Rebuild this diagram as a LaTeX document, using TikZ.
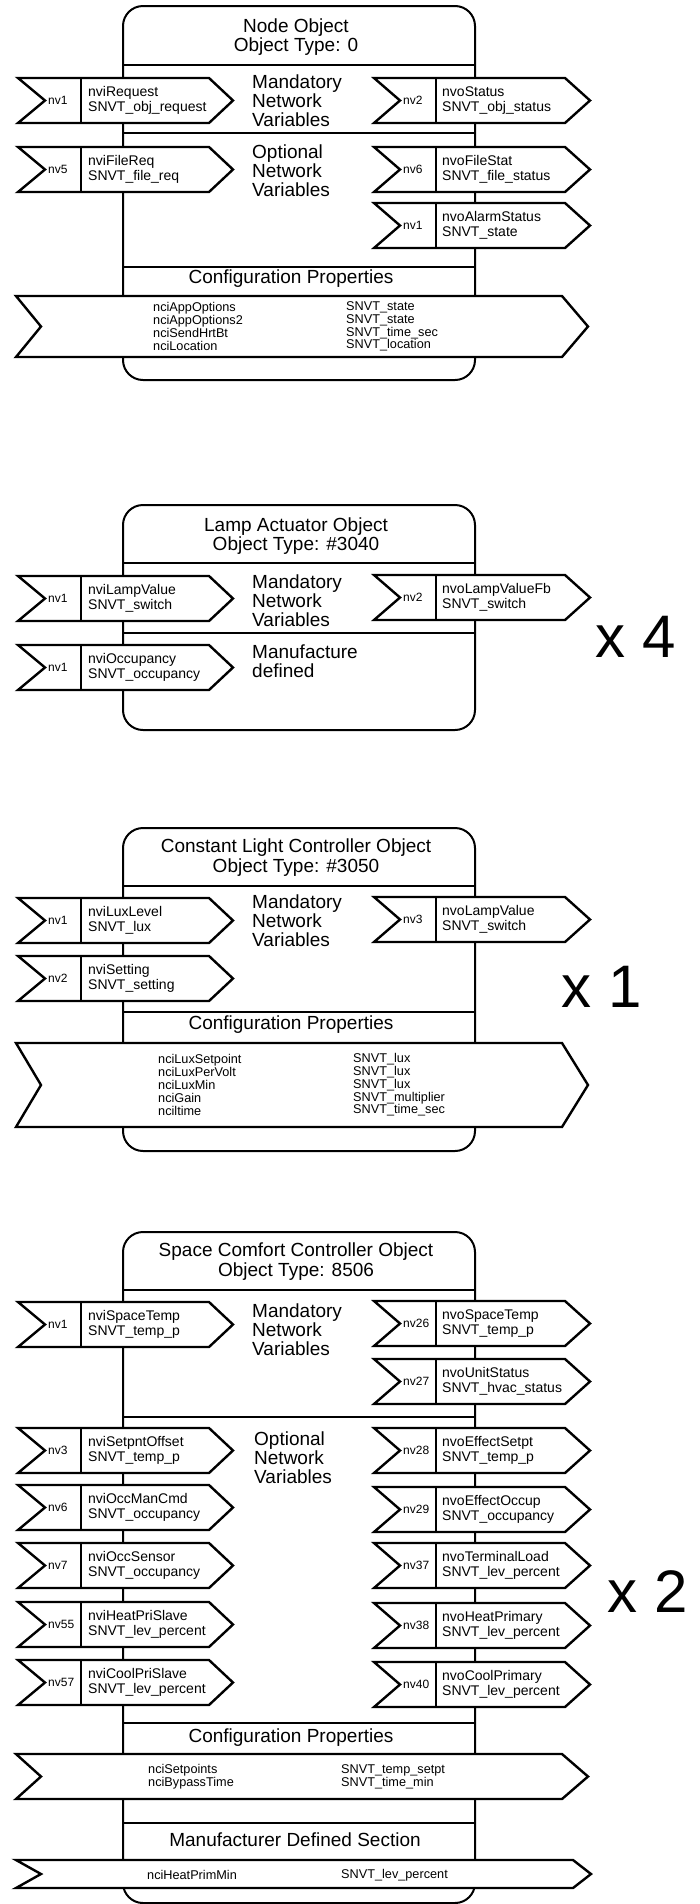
\documentclass[tikz,border=0pt]{standalone}
\usepackage{fontspec}
\setmainfont{Liberation Sans}
\tikzset{
  boxline/.style={line width=2pt, black},
  arr/.style={line width=2.4pt, black, fill=white, line join=miter},
  divline/.style={line width=2.4pt, black},
  nvlab/.style={font=\fontsize{12}{13}\selectfont, inner sep=0pt, anchor=west},
  vartext/.style={font=\fontsize{14}{15}\selectfont, align=left, anchor=west, inner sep=0pt},
  titletext/.style={font=\fontsize{19}{19.5}\selectfont, align=center, inner sep=0pt},
  headtext/.style={font=\fontsize{19}{19}\selectfont, align=left, anchor=west, inner sep=0pt},
  cfgtext/.style={font=\fontsize{12.7}{12.8}\selectfont, align=left, anchor=west, inner sep=0pt},
  multtext/.style={font=\fontsize{60}{60}\selectfont, inner sep=0pt},
}
\newcommand{\inarrow}[5]{%
  \draw[arr] (18,#2) -- (209,#2) -- (233,#2+22.5) -- (209,#2+45) -- (18,#2+45) -- (45,#2+22.5) -- cycle;
  \draw[divline] (81,#2) -- (81,#2+45);
  \node[nvlab] (#1nv) at (48,#2+22.5) {#3};
  \node[vartext] (#1txt) at (88,#2+22.5) {#4\\#5};
}
\newcommand{\outarrow}[5]{%
  \draw[arr] (374,#2) -- (565,#2) -- (590,#2+22.5) -- (565,#2+45) -- (374,#2+45) -- (400,#2+22.5) -- cycle;
  \draw[divline] (436,#2) -- (436,#2+45);
  \node[nvlab] (#1nv) at (403,#2+22.5) {#3};
  \node[vartext] (#1txt) at (442,#2+22.5) {#4\\#5};
}
\newcommand{\cfgarrow}[7]{%
  \draw[arr] (16,#2) -- (562,#2) -- (588,{(#2+#3)/2}) -- (562,#3) -- (16,#3) -- (41,{(#2+#3)/2}) -- cycle;
  \node[cfgtext] (#1l) at (#4,{(#2+#3)/2}) {#6};
  \node[cfgtext] (#1r) at (#5,{(#2+#3)/2}) {#7};
}
\begin{document}
\begin{tikzpicture}[x=1pt,y=-1pt]
\fill[white] (0,0) rectangle (699,1904);
\useasboundingbox (0,0) rectangle (699,1904);
% ---------- Section 1: Node Object ----------
\draw[boxline, rounded corners=20] (123,6) rectangle (475,380);
\node[titletext] (t1) at (296,37) {Node Object\\Object Type: 0};
\draw[boxline] (123,65) -- (475,65);
\node[headtext] (h1a) at (252,101) {Mandatory\\Network\\Variables};
\draw[boxline] (123,133) -- (475,133);
\node[headtext] (h1b) at (252,171) {Optional\\Network\\Variables};
\draw[boxline] (123,267) -- (475,267);
\node[titletext] (c1) at (291,279) {Configuration Properties};
\inarrow{a1}{78}{nv1}{nviRequest}{SNVT\_obj\_request}
\outarrow{b1}{78}{nv2}{nvoStatus}{SNVT\_obj\_status}
\inarrow{a2}{147}{nv5}{nviFileReq}{SNVT\_file\_req}
\outarrow{b2}{147}{nv6}{nvoFileStat}{SNVT\_file\_status}
\outarrow{b3}{203}{nv1}{nvoAlarmStatus}{SNVT\_state}
\cfgarrow{k1}{296}{357}{153}{346}{nciAppOptions\\nciAppOptions2\\nciSendHrtBt\\nciLocation}{SNVT\_state\\SNVT\_state\\SNVT\_time\_sec\\SNVT\_location}
% ---------- Section 2: Lamp Actuator ----------
\draw[boxline, rounded corners=20] (123,505) rectangle (475,730);
\node[titletext] (t2) at (296,536) {Lamp Actuator Object\\Object Type: \#3040};
\draw[boxline] (123,563) -- (475,563);
\node[headtext] (h2a) at (252,601) {Mandatory\\Network\\Variables};
\draw[boxline] (123,633) -- (475,633);
\node[headtext] (h2b) at (252,661.5) {Manufacture\\defined};
\inarrow{a3}{576}{nv1}{nviLampValue}{SNVT\_switch}
\outarrow{b4}{575}{nv2}{nvoLampValueFb}{SNVT\_switch}
\inarrow{a4}{645}{nv1}{nviOccupancy}{SNVT\_occupancy}
\node[multtext] (m4) at (636,637) {x 4};
% ---------- Section 3: Constant Light Controller ----------
\draw[boxline, rounded corners=20] (123,828) rectangle (475,1151);
\node[titletext] (t3) at (296,857.5) {Constant Light Controller Object\\Object Type: \#3050};
\draw[boxline] (123,886) -- (475,886);
\node[headtext] (h3a) at (252,921) {Mandatory\\Network\\Variables};
\draw[boxline] (123,1012) -- (475,1012);
\node[titletext] (c3) at (291,1025) {Configuration Properties};
\inarrow{a5}{898}{nv1}{nviLuxLevel}{SNVT\_lux}
\outarrow{b5}{897}{nv3}{nvoLampValue}{SNVT\_switch}
\inarrow{a6}{956}{nv2}{nviSetting}{SNVT\_setting}
\cfgarrow{k3}{1043}{1127}{158}{353}{nciLuxSetpoint\\nciLuxPerVolt\\nciLuxMin\\nciGain\\nciltime}{SNVT\_lux\\SNVT\_lux\\SNVT\_lux\\SNVT\_multiplier\\SNVT\_time\_sec}
\node[multtext] (m1) at (602,987) {x 1};
% ---------- Section 4: Space Comfort Controller ----------
\draw[boxline, rounded corners=20] (123,1232) rectangle (475,1903);
\node[titletext] (t4) at (296,1261.5) {Space Comfort Controller Object\\Object Type: 8506};
\draw[boxline] (123,1290) -- (475,1290);
\node[headtext] (h4a) at (252,1330) {Mandatory\\Network\\Variables};
\draw[boxline] (123,1417) -- (475,1417);
\node[headtext] (h4b) at (254,1458) {Optional\\Network\\Variables};
\draw[boxline] (123,1723) -- (475,1723);
\node[titletext] (c4) at (291,1738) {Configuration Properties};
\draw[boxline] (123,1823) -- (475,1823);
\node[titletext] (d4) at (295,1840) {Manufacturer Defined Section};
\inarrow{a7}{1302}{nv1}{nviSpaceTemp}{SNVT\_temp\_p}
\inarrow{a8}{1428}{nv3}{nviSetpntOffset}{SNVT\_temp\_p}
\inarrow{a9}{1485}{nv6}{nviOccManCmd}{SNVT\_occupancy}
\inarrow{a10}{1543}{nv7}{nviOccSensor}{SNVT\_occupancy}
\inarrow{a11}{1602}{nv55}{nviHeatPriSlave}{SNVT\_lev\_percent}
\inarrow{a12}{1660}{nv57}{nviCoolPriSlave}{SNVT\_lev\_percent}
\outarrow{b6}{1301}{nv26}{nvoSpaceTemp}{SNVT\_temp\_p}
\outarrow{b7}{1359}{nv27}{nvoUnitStatus}{SNVT\_hvac\_status}
\outarrow{b8}{1428}{nv28}{nvoEffectSetpt}{SNVT\_temp\_p}
\outarrow{b9}{1487}{nv29}{nvoEffectOccup}{SNVT\_occupancy}
\outarrow{b10}{1543}{nv37}{nvoTerminalLoad}{SNVT\_lev\_percent}
\outarrow{b11}{1603}{nv38}{nvoHeatPrimary}{SNVT\_lev\_percent}
\outarrow{b12}{1662}{nv40}{nvoCoolPrimary}{SNVT\_lev\_percent}
\cfgarrow{k4}{1754}{1799}{148}{341}{nciSetpoints\\nciBypassTime}{SNVT\_temp\_setpt\\SNVT\_time\_min}
\draw[arr] (16,1860) -- (573,1860) -- (591,1874) -- (573,1888) -- (16,1888) -- (41,1874) -- cycle;
\node[cfgtext] (k5l) at (147,1875) {nciHeatPrimMin};
\node[cfgtext] (k5r) at (341,1875) {SNVT\_lev\_percent};
\node[multtext] (m2) at (648,1592) {x 2};
\end{tikzpicture}
\end{document}
